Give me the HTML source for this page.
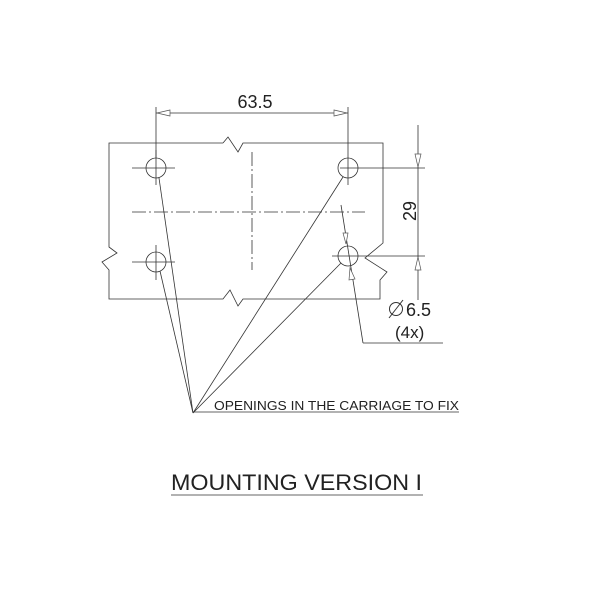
<!DOCTYPE html>
<html><head><style>body{margin:0;background:#fff}svg{display:block}</style></head><body>
<svg width="600" height="600" viewBox="0 0 600 600" xmlns="http://www.w3.org/2000/svg" font-family="Liberation Sans, sans-serif">
<g fill="none" stroke="#333" stroke-width="0.8">
<polyline points="223,143 109,143 109,247 117,253 102,262 109,270 109,299 223,299 230,290 238,306 243,299 380,299 380,280 387,272 365,258 383,243 383,143 243,143 238,152 228,137 223,143"/>
<circle cx="156" cy="168" r="10"/><circle cx="348" cy="168" r="10"/>
<circle cx="156" cy="262" r="10"/><circle cx="348" cy="256" r="10"/>
<line x1="132" y1="168" x2="175" y2="168"/><line x1="156" y1="150" x2="156" y2="185"/>
<line x1="132" y1="262" x2="175" y2="262"/><line x1="156" y1="245" x2="156" y2="280"/>
<line x1="340" y1="168" x2="425" y2="168"/><line x1="348" y1="107" x2="348" y2="185"/>
<line x1="332" y1="256" x2="425" y2="256"/>
<line x1="156" y1="107" x2="156" y2="158"/>
<line x1="156" y1="113" x2="348" y2="113"/>
<line x1="418" y1="125" x2="418" y2="300"/>
<line x1="132" y1="212" x2="365" y2="212" stroke-dasharray="14,3,2,3"/>
<line x1="252" y1="152" x2="252" y2="270" stroke-dasharray="14,3,2,3"/>
<line x1="341" y1="205" x2="363" y2="343"/>
<polyline points="363,343 443,343"/>
<line x1="193" y1="413" x2="159" y2="178"/>
<line x1="193" y1="413" x2="160" y2="271"/>
<line x1="193" y1="413" x2="343" y2="177"/>
<line x1="193" y1="413" x2="341" y2="263"/>
<line x1="193" y1="412" x2="459" y2="412"/>
<line x1="171" y1="495" x2="423" y2="495"/>
<circle cx="396" cy="309" r="6.5" stroke-width="1"/>
<line x1="389" y1="318" x2="403" y2="300" stroke-width="1"/>
</g>
<g fill="#fff" stroke="#555" stroke-width="0.7">
<polygon points="157,113 170,110 170,116"/><polygon points="347,113 334,110 334,116"/>
<polygon points="418,167 415,154 421,154"/><polygon points="418,257 415,270 421,270"/>
<polygon points="346,244 343,233 348,233"/><polygon points="350,268 349,280 355,279"/>
</g>
<g fill="#222">
<text x="255" y="108" font-size="18" text-anchor="middle">63.5</text>
<text transform="translate(416,211) rotate(-90)" font-size="18" text-anchor="middle">29</text>
<text x="406" y="316" font-size="18">6.5</text>
<text x="395" y="338" font-size="17">(4x)</text>
<text x="214" y="410" font-size="13" textLength="245" lengthAdjust="spacingAndGlyphs">OPENINGS IN THE CARRIAGE TO FIX</text>
<text x="171" y="490" font-size="22" textLength="251" lengthAdjust="spacingAndGlyphs">MOUNTING VERSION I</text>
</g>
</svg>
</body></html>
